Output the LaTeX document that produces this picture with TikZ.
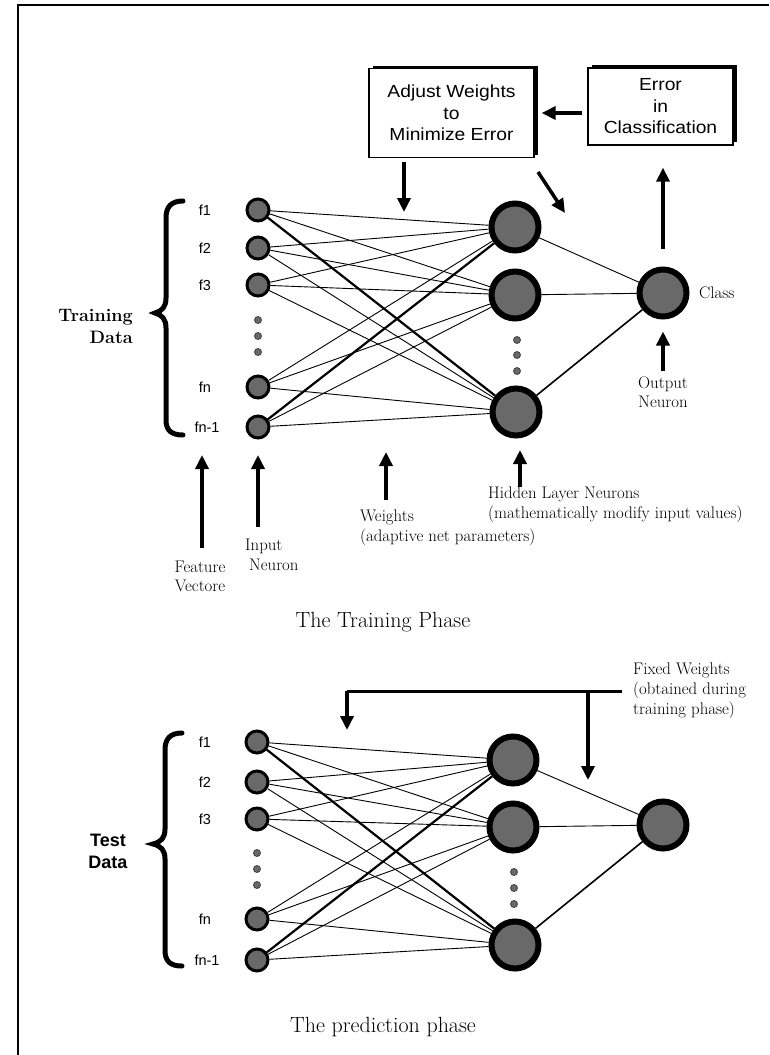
\documentclass[tikz,border=0pt]{standalone}
\usepackage{fontspec}
\newfontfamily\hel{Liberation Sans}
\newfontfamily\helw[FakeStretch=1.1]{Liberation Sans}
\usetikzlibrary{arrows.meta,shadows}
\definecolor{ngray}{RGB}{105,105,105}
\begin{document}
\begin{tikzpicture}[x=1pt,y=-1pt,
  inp/.style={circle,fill=ngray,draw=black,line width=3pt,minimum size=22pt,inner sep=0pt},
  hid/.style={circle,fill=ngray,draw=black,line width=6pt,minimum size=47pt,inner sep=0pt},
  dotn/.style={circle,fill=ngray,draw=black!75,line width=0.8pt,minimum size=7pt,inner sep=0pt},
  wire/.style={line width=0.9pt},
  wthick/.style={line width=2.2pt},
  bigarrow/.style={line width=3.5pt,-{Triangle[length=14pt,width=13pt]}},
  flab/.style={font=\hel\fontsize{14.5}{16}\selectfont,inner sep=0pt},
  lab/.style={font=\fontsize{16.8}{20}\selectfont,align=left,inner sep=0pt},
  clab/.style={font=\fontsize{16.8}{19}\selectfont,align=center,inner sep=0pt},
  box/.style={draw=black,line width=1.3pt,fill=white,inner sep=0pt,align=center,
    font=\helw\fontsize{17.5}{21.5}\selectfont,
    drop shadow={shadow xshift=4pt,shadow yshift=3pt,fill=black,opacity=1}},
  brace/.style={line width=5pt,line cap=round},
  title/.style={font=\fontsize{22}{26}\selectfont,inner sep=0pt}
]
\useasboundingbox (0,0) rectangle (769,1055);
\draw[line width=1.2pt] (18,1055) -- (18,5) -- (769,5);

% ---------- boxes ----------
\node[box,minimum width=165pt,minimum height=89pt] (adj) at (451.5,113) {Adjust Weights\\to\\Minimize Error};
\node[box,minimum width=145pt,minimum height=77pt] (err) at (660.5,106.5) {Error\\in\\Classification};
\draw[bigarrow,shorten <=5pt,shorten >=7pt] (err.west |- adj.east) -- (adj.east);

% ---------- training network ----------
\node[inp] (a1) at (258,210) {};
\node[inp] (a2) at (258,248) {};
\node[inp] (a3) at (258,285) {};
\node[inp] (an) at (258,387) {};
\node[inp] (am) at (258,427) {};
\node[dotn] (ad1) at (258,320) {};
\node[dotn] (ad2) at (258,336) {};
\node[dotn] (ad3) at (258,352) {};
\node[hid] (ah1) at (515,227) {};
\node[hid] (ah2) at (515,295) {};
\node[hid] (ah3) at (516,412) {};
\node[dotn] (ahd1) at (517,340) {};
\node[dotn] (ahd2) at (517,355) {};
\node[dotn] (ahd3) at (517,371) {};
\node[hid] (aout) at (663,293) {};

\foreach \i in {1,2,3,n,m}
  \foreach \h in {1,2,3}
    \draw[wire] (a\i) -- (ah\h);
\draw[wthick] (a1) -- (ah3);
\draw[wthick] (am) -- (ah1);
\draw[wire] (ah1) -- (aout);
\draw[wire] (ah2) -- (aout);
\draw[line width=1.6pt] (ah3) -- (aout);

\node[flab] (fa1) at (205,210) {f1};
\node[flab] (fa2) at (205,248) {f2};
\node[flab] (fa3) at (205,285) {f3};
\node[flab] (fan) at (205,387) {fn};
\node[flab] (fam) at (207,427) {fn-1};

\draw[brace] (183,201) .. controls (171,201) and (166,207) .. (166,218) -- (166,298)
  .. controls (166,307) and (162,311) .. (155,313)
  .. controls (162,315) and (166,319) .. (166,328) -- (166,420)
  .. controls (166,430) and (171,435) .. (183,435);
\node[font=\bfseries\fontsize{18}{22}\selectfont,align=right,anchor=east,inner sep=0pt] (tdata) at (133,326) {Training\\Data};

\node[font=\fontsize{16.8}{19}\selectfont,inner sep=0pt,anchor=west] (cls) at (699,293) {Class};

% arrows around the training net
\coordinate (wtip) at (404,212);
\draw[bigarrow,shorten <=4pt] (adj.south -| wtip) -- (wtip);
\coordinate (dstart) at (538,172);
\coordinate (dtip) at (565,213);
\draw[bigarrow] (dstart) -- (dtip);
\draw[bigarrow,shorten <=18pt,shorten >=22pt] (aout.north) -- (aout.north |- err.south);

\node[clab] (olab) at (663,392) {Output\\Neuron};
\draw[bigarrow,shorten <=5pt,shorten >=12pt] (olab.north) -- (aout.south);

\node[clab] (fv) at (200,576) {Feature\\Vectore};
\coordinate (fvtip) at (202,455);
\draw[bigarrow,shorten <=12pt] (fv.north -| fvtip) -- (fvtip);

\node[lab,anchor=north west] (inlab) at (245,539) {Input\\\hspace*{4pt}Neuron};
\coordinate (intip) at (258,455);
\draw[bigarrow,shorten <=12pt] (inlab.north -| intip) -- (intip);

\node[lab,anchor=north west] (wlab) at (360,510) {Weights\\(adaptive net parameters)};
\coordinate (wltip) at (386,452);
\draw[bigarrow,shorten <=10pt] (wlab.north -| wltip) -- (wltip);

\node[lab,anchor=north west] (hlab) at (488,487) {Hidden Layer Neurons\\(mathematically modify input values)};
\coordinate (hltip) at (520,450);
\draw[bigarrow] (hlab.north -| hltip) -- (hltip);

\node[title] (t1) at (383,622) {The Training Phase};

% ---------- prediction network ----------
\node[inp] (b1) at (257,742) {};
\node[inp] (b2) at (257,782) {};
\node[inp] (b3) at (257,819) {};
\node[inp] (bn) at (257,919) {};
\node[inp] (bm) at (257,960) {};
\node[dotn] (bd1) at (257,853) {};
\node[dotn] (bd2) at (257,869) {};
\node[dotn] (bd3) at (257,885) {};
\node[hid] (bh1) at (513,760) {};
\node[hid] (bh2) at (513,827) {};
\node[hid] (bh3) at (515,945) {};
\node[dotn] (bhd1) at (514,872) {};
\node[dotn] (bhd2) at (514,888) {};
\node[dotn] (bhd3) at (514,904) {};
\node[hid] (bout) at (663,825) {};

\foreach \i in {1,2,3,n,m}
  \foreach \h in {1,2,3}
    \draw[wire] (b\i) -- (bh\h);
\draw[wthick] (b1) -- (bh3);
\draw[wthick] (bm) -- (bh1);
\draw[wire] (bh1) -- (bout);
\draw[wire] (bh2) -- (bout);
\draw[line width=1.6pt] (bh3) -- (bout);

\node[flab] (fb1) at (205,742) {f1};
\node[flab] (fb2) at (205,782) {f2};
\node[flab] (fb3) at (205,819) {f3};
\node[flab] (fbn) at (205,919) {fn};
\node[flab] (fbm) at (207,960) {fn-1};

\draw[brace] (182,733) .. controls (170,733) and (165,739) .. (165,750) -- (165,829)
  .. controls (165,838) and (161,842) .. (153,844)
  .. controls (161,846) and (165,850) .. (165,859) -- (165,950)
  .. controls (165,961) and (170,966) .. (182,966);
\node[font=\hel\bfseries\fontsize{18}{22}\selectfont,align=center,inner sep=0pt] (sdata) at (108,851) {Test\\Data};

% fixed weights
\node[lab,anchor=north west] (fw) at (633,663) {Fixed Weights\\(obtained during\\training phase)};
\coordinate (fwl) at (347,730);
\coordinate (fwr) at (588,780);
\coordinate (fwe) at (622,691);
\draw[line width=3pt] (fwe) -- (fwl |- fwe);
\draw[bigarrow] (fwl |- fwe) -- (fwl);
\draw[bigarrow] (fwr |- fwe) -- (fwr);

\node[title] (t2) at (383,1027) {The prediction phase};
\end{tikzpicture}
\end{document}
